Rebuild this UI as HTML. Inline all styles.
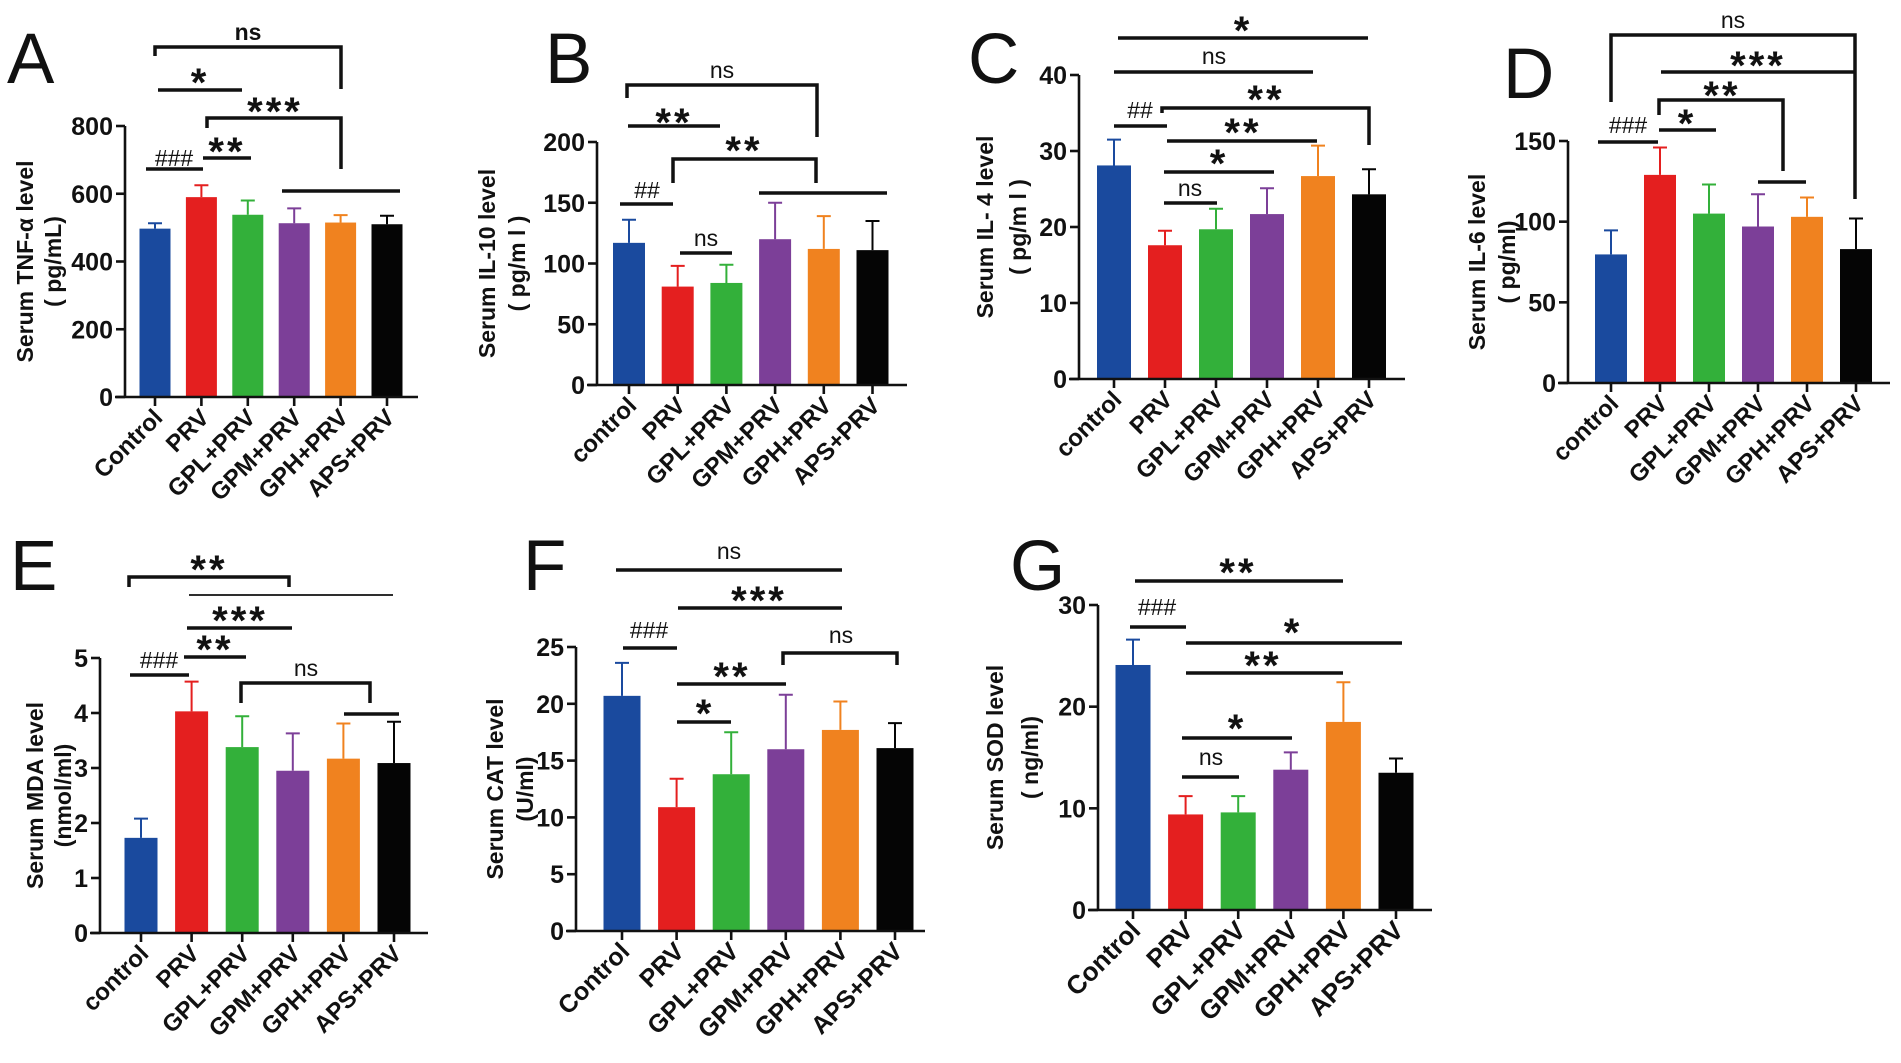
<!DOCTYPE html>
<html><head><meta charset="utf-8"><style>
html,body{margin:0;padding:0;background:#fff}
svg{display:block}
text{font-family:"Liberation Sans",Arial,sans-serif}
</style></head><body>
<svg id="fig" width="1901" height="1063" viewBox="0 0 1901 1063" xmlns="http://www.w3.org/2000/svg"></svg>
<script>
// ---- data ----
const catsUpper=["Control","PRV","GPL+PRV","GPM+PRV","GPH+PRV","APS+PRV"];
const catsLower=["control","PRV","GPL+PRV","GPM+PRV","GPH+PRV","APS+PRV"];
const valsA=[497,590,538,513,515,510];
const errA=[513,625,580,557,537,535];
const ticksA=[0,200,400,600,800];
const valsB=[117,81,84,120,112,111];
const errB=[136,98,99,150,139,135];
const ticksB=[0,50,100,150,200];
const valsC=[28.1,17.6,19.7,21.7,26.7,24.3];
const errC=[31.5,19.5,22.4,25.1,30.7,27.6];
const ticksC=[0,10,20,30,40];
const valsD=[79.7,129,105,97,103,83];
const errD=[94.6,146,123,117,115,102];
const ticksD=[0,50,100,150];
const valsE=[1.73,4.03,3.38,2.95,3.17,3.09];
const errE=[2.08,4.57,3.94,3.63,3.81,3.84];
const ticksE=[0,1,2,3,4,5];
const valsF=[20.7,10.9,13.8,16.0,17.7,16.1];
const errF=[23.6,13.4,17.5,20.8,20.2,18.3];
const ticksF=[0,5,10,15,20,25];
const valsG=[24.1,9.4,9.6,13.8,18.5,13.5];
const errG=[26.6,11.2,11.2,15.5,22.4,14.9];
const ticksG=[0,10,20,30];
const colors=["#1a4a9e","#e41f1f","#33b03a","#7c3f98","#f0821f","#050505"];

const panels=[
 {id:"a",letter:"A",lx:7,ly:83,ax:125,y0:397,yTop:126,max:800,ticks:ticksA,cx0:155,dx:46.4,bw:31,xEnd:418,cats:catsUpper,vals:valsA,errs:errA,t:["Serum TNF-α level","( pg/mL)"],tx:[25,53],fs:24,
  ann:[["b",155,341,47,56,89,"ns",248,32,1],["l",158,242,90,"*",200,82],["b",207,341,118,128,169,"***",275,111],["l",203,251,158,"**",227,151],["l",146,203,169,"###",174,158,0],["l",282,400,191]]},
 {id:"b",letter:"B",lx:545,ly:83,ax:597,y0:385,yTop:142,max:200,ticks:ticksB,cx0:629,dx:48.7,bw:32,xEnd:907,cats:catsLower,vals:valsB,errs:errB,t:["Serum IL-10 level","( pg/m l )"],tx:[487,517],fs:24,
  ann:[["b",627,817,85,98,137,"ns",722,70,0],["l",628,720,126,"**",674,122],["b",673,816,159,183,183,"**",744,150],["l",620,673,204,"##",647,190,0],["l",680,732,253,"ns",706,238,0],["l",759,887,193]]},
 {id:"c",letter:"C",lx:968,ly:83,ax:1079,y0:379,yTop:75,max:40,ticks:ticksC,cx0:1114,dx:51,bw:34,xEnd:1405,cats:catsLower,vals:valsC,errs:errC,t:["Serum IL- 4 level","( pg/m l )"],tx:[985,1018],fs:24,
  ann:[["l",1118,1368,38,"*",1243,30],["l",1114,1313,72,"ns",1214,56,0],["b",1162,1369,108,113,145,"**",1266,99],["l",1114,1167,126,"##",1140,110,0],["l",1167,1317,141,"**",1243,132],["l",1164,1274,172,"*",1219,163],["l",1164,1217,203,"ns",1190,188,0]]},
 {id:"d",letter:"D",lx:1503,ly:98,ax:1568,y0:383,yTop:141,max:150,ticks:ticksD,cx0:1611,dx:49,bw:32,xEnd:1890,cats:catsLower,vals:valsD,errs:errD,t:["Serum IL-6 level","( pg/ml)"],tx:[1477,1507],fs:24,
  ann:[["b",1611,1855,35,102,199,"ns",1733,20,0],["l",1661,1855,72,"***",1758,65],["b",1659,1783,100,115,171,"**",1722,95],["l",1598,1658,142,"###",1628,125,0],["l",1659,1716,130,"*",1687,123],["l",1758,1806,182]]},
 {id:"e",letter:"E",lx:10,ly:590,ax:100,y0:933,yTop:658,max:5,ticks:ticksE,cx0:141,dx:50.6,bw:33,xEnd:428,cats:catsLower,vals:valsE,errs:errE,t:["Serum MDA level","(nmol/ml)"],tx:[35,63],fs:24,
  ann:[["b",129,289,577,587,587,"**",209,569],["l",189,393,595,null,0,0,0,1.8],["l",187,292,628,"***",240,620],["l",184,246,657,"**",215,649],["l",130,189,675,"###",159,660,0],["b",241,370,683,703,703,"ns",306,668,0],["l",344,399,714]]},
 {id:"f",letter:"F",lx:523,ly:590,ax:576,y0:931,yTop:647,max:25,ticks:ticksF,cx0:622,dx:54.6,bw:37,xEnd:925,cats:catsUpper,vals:valsF,errs:errF,t:["Serum CAT level","(U/ml)"],tx:[495,525],fs:25,
  ann:[["l",616,842,570,"ns",729,551,0],["l",678,842,608,"***",759,600],["l",623,677,648,"###",649,630,0],["b",783,897,653,665,665,"ns",841,635,0],["l",677,786,684,"**",732,676],["l",677,731,722,"*",705,713]]},
 {id:"g",letter:"G",lx:1010,ly:590,ax:1098,y0:910,yTop:605,max:30,ticks:ticksG,cx0:1133,dx:52.6,bw:35,xEnd:1432,cats:catsUpper,vals:valsG,errs:errG,t:["Serum SOD level","( ng/ml)"],tx:[995,1030],fs:26,
  ann:[["l",1135,1343,581,"**",1238,572],["l",1130,1186,627,"###",1157,607,0],["l",1186,1402,643,"*",1293,632],["l",1186,1343,673,"**",1263,665],["l",1182,1292,738,"*",1237,728],["l",1182,1239,777,"ns",1211,757,0]]}
];

const NS="http://www.w3.org/2000/svg";
const svg=document.getElementById("fig");
function mk(tag,attrs,parent){const e=document.createElementNS(NS,tag);for(const k in attrs)e.setAttribute(k,attrs[k]);(parent||svg).appendChild(e);return e;}

panels.forEach(p=>{
  const g=mk("g",{});
  
  
  const y=v=>p.y0-(v/p.max)*(p.y0-p.yTop);
  const x=i=>p.cx0+i*p.dx;
  const L=mk("text",{x:p.lx,y:p.ly,"font-size":71,fill:"#111"},g);L.textContent=p.letter;
  
  
  p.vals.forEach((v,i)=>{
    const r=mk("rect",{x:x(i)-p.bw/2,y:y(v),width:p.bw,height:p.y0-y(v),fill:colors[i]},g);
    
    
    const ey=y(p.errs[i]);
    const e=mk("path",{d:`M${x(i)},${y(v)}V${ey}M${x(i)-7},${ey}H${x(i)+7}`,stroke:colors[i],"stroke-width":2,fill:"none"},g);
    
    
  });
  const ya=mk("line",{x1:p.ax,y1:p.yTop,x2:p.ax,y2:p.y0,stroke:"#111","stroke-width":2.6},g);
  
  
  const xa=mk("line",{x1:p.ax-10,y1:p.y0,x2:p.xEnd,y2:p.y0,stroke:"#111","stroke-width":2.6},g);
  
  
  p.ticks.forEach(t=>{
    mk("line",{x1:p.ax-9,y1:y(t),x2:p.ax,y2:y(t),stroke:"#111","stroke-width":2.6},g);
    const tl=mk("text",{x:p.ax-12,y:y(t)+9,"font-size":25,"font-weight":"bold","text-anchor":"end",fill:"#111"},g);
    tl.textContent=t;
    
    
  });
  p.cats.forEach((c,i)=>{
    mk("line",{x1:x(i),y1:p.y0,x2:x(i),y2:p.y0+9,stroke:"#111","stroke-width":2.6},g);
    const tl=mk("text",{transform:`translate(${x(i)+9},${p.y0+22}) rotate(-45)`,"font-size":p.fs,"font-weight":"bold","text-anchor":"end",fill:"#111"},g);
    tl.textContent=c;
    
    
  });
  const my=(p.y0+p.yTop)/2;
  p.t.forEach((t,k)=>{
    const tt=mk("text",{transform:`translate(${p.tx[k]+8},${my}) rotate(-90)`,"font-size":23,"font-weight":"bold","text-anchor":"middle",fill:"#111"},g);
    tt.textContent=t;
    
    
  });
  p.ann.forEach(a=>{
    let d,lab,lx,ly,bold=1,sw=3.5;
    if(a[0]==="b"){d=`M${a[1]},${a[4]}V${a[3]}H${a[2]}V${a[5]}`;lab=a[6];lx=a[7];ly=a[8];if(a.length>9)bold=a[9];}
    else{d=`M${a[1]},${a[3]}H${a[2]}`;lab=a[4];lx=a[5];ly=a[6];if(a.length>7)bold=a[7];if(a.length>8)sw=a[8];}
    const pa=mk("path",{d:d,stroke:"#111","stroke-width":sw,fill:"none"},g);
    
    
    if(lab){
      const star=lab.indexOf("*")>=0;
      const tx=mk("text",{x:lx,y:ly+(star?14:8),"font-size":star?40:23,"font-weight":bold?"bold":"normal","text-anchor":"middle",fill:"#111","letter-spacing":star?3:0},g);
      tx.textContent=lab;
      
      
    }
  });
});
</script>
</body></html>
